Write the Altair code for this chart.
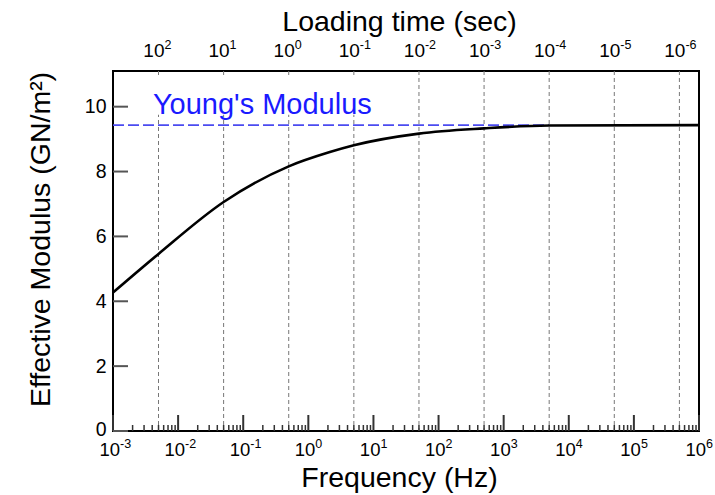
import altair as alt
import pandas as pd

# ---- data ----
freq_exponents = [-3, -2, -1, 0, 1, 2, 3, 4, 5, 6]
minor_multipliers = [2, 3, 4, 5, 6, 7, 8, 9]
loading_time_exponents = [2, 1, 0, -1, -2, -3, -4, -5, -6]
y_ticks = [0, 2, 4, 6, 8, 10]

curve_freq = [1e-3, 5e-3, 5e-2, 5e-1, 2.14, 5, 50, 500, 5000, 1e6]
curve_modulus = [4.27, 5.46, 7.06, 8.16, 8.60, 8.81, 9.17, 9.33, 9.42, 9.43]

youngs_modulus = 9.43
youngs_line_freq = [1e-3, 5e3]
label_text = "Young's Modulus"
label_freq = 0.0041
label_y = 10.05
box_freq = [0.0026, 19.0]
box_y = [9.75, 10.9]

X_DOMAIN = [1e-3, 1e6]
Y_DOMAIN = [0, 11.1]
W, H = 586, 360
FONT = "Liberation Sans"
TITLE_SIZE = 28.5


def xscale():
    return alt.Scale(type="log", domain=X_DOMAIN, nice=False)


yscale = alt.Scale(domain=Y_DOMAIN, nice=False, zero=False)
y_axis = alt.Axis(
    values=y_ticks, title="Effective Modulus (GN/m²)", grid=False, ticks=False, domain=False,
    labelFont=FONT, labelFontSize=19.5, labelColor="black", labelPadding=7,
    labelOffset=alt.ExprRef(expr="datum.value == 0 ? -2 : 0"),
    titleFont=FONT, titleFontSize=TITLE_SIZE, titleFontWeight="normal", titleColor="black",
    titleX=-73, titleY=168, titleAngle=270, titleBaseline="middle", titleAlign="center")

# ---- tables ----
decade_df = pd.DataFrame({"f": [10.0 ** e for e in freq_exponents],
                          "exp": [str(e) for e in freq_exponents]})
minor_df = pd.DataFrame({"f": [m * 10.0 ** e for e in freq_exponents[:-1] for m in minor_multipliers]})
top_df = pd.DataFrame({"f": [0.5 * 10.0 ** (-t) for t in loading_time_exponents],
                       "exp": [str(t) for t in loading_time_exponents]})
curve_df = pd.DataFrame({"f": curve_freq, "E": curve_modulus})
young_df = pd.DataFrame({"f": youngs_line_freq, "E": [youngs_modulus] * 2})
ytick_df = pd.DataFrame({"v": y_ticks})
label_df = pd.DataFrame({"f": [label_freq], "E": [label_y], "t": [label_text]})
box_df = pd.DataFrame({"f": [box_freq[0]], "f2": [box_freq[1]], "E": [box_y[0]], "E2": [box_y[1]]})

# gridlines + top axis title (loading time)
grid = alt.Chart(top_df).mark_rule(color="#777777", strokeWidth=1, strokeDash=[4, 3]).encode(
    x=alt.X("f:Q", scale=xscale(), axis=alt.Axis(
        orient="top", values=top_df["f"].tolist(), labels=False,
        title="Loading time (sec)", grid=False, ticks=False, domain=False,
        titleFont=FONT, titleFontSize=TITLE_SIZE, titleFontWeight="normal", titleColor="black",
        titleX=286, titleY=-50, titleBaseline="middle", titleAlign="center")),
    y=alt.value(0), y2=alt.value(H),
)

top_base = alt.Chart(top_df).mark_text(align="right", baseline="middle", font=FONT, fontSize=19,
                                       color="black", dx=6).encode(
    x=alt.X("f:Q", scale=xscale(), axis=None), y=alt.value(-20), text=alt.value("10"))
top_exp = alt.Chart(top_df).mark_text(align="left", baseline="middle", font=FONT, fontSize=12.5,
                                      color="black", dx=6).encode(
    x=alt.X("f:Q", scale=xscale(), axis=None), y=alt.value(-26), text="exp:N")

box = alt.Chart(box_df).mark_rect(color="white").encode(
    x=alt.X("f:Q", scale=xscale(), axis=None), x2="f2:Q",
    y=alt.Y("E:Q", scale=yscale, axis=y_axis), y2="E2:Q",
)

young = alt.Chart(young_df).mark_line(color="#4b4bf0", strokeWidth=1.6, strokeDash=[11, 4]).encode(
    x=alt.X("f:Q", scale=xscale(), axis=None),
    y=alt.Y("E:Q", scale=yscale, axis=y_axis),
)

curve = alt.Chart(curve_df).mark_line(color="black", strokeWidth=2.6, interpolate="monotone").encode(
    x=alt.X("f:Q", scale=xscale(), axis=None),
    y=alt.Y("E:Q", scale=yscale, axis=y_axis),
)

label = alt.Chart(label_df).mark_text(align="left", baseline="middle", font=FONT, fontSize=29,
                                      color="#1a1aff").encode(
    x=alt.X("f:Q", scale=xscale(), axis=None),
    y=alt.Y("E:Q", scale=yscale, axis=y_axis),
    text="t:N",
)

# bottom axis title (frequency) with inward major ticks
major = alt.Chart(decade_df).mark_rule(color="#333333", strokeWidth=2).encode(
    x=alt.X("f:Q", scale=xscale(), axis=alt.Axis(
        orient="bottom", values=decade_df["f"].tolist(), labels=False,
        title="Frequency (Hz)", grid=False, ticks=False, domain=False,
        titleFont=FONT, titleFontSize=TITLE_SIZE, titleFontWeight="normal", titleColor="black",
        titleX=286, titleY=46, titleBaseline="middle", titleAlign="center")),
    y=alt.value(H), y2=alt.value(H - 16),
)

minor = alt.Chart(minor_df).mark_rule(color="#333333", strokeWidth=1.5).encode(
    x=alt.X("f:Q", scale=xscale(), axis=None),
    y=alt.value(H), y2=alt.value(H - 6),
)

bot_base = alt.Chart(decade_df).mark_text(align="right", baseline="middle", font=FONT, fontSize=18.5,
                                          color="black", dx=7).encode(
    x=alt.X("f:Q", scale=xscale(), axis=None), y=alt.value(H + 19), text=alt.value("10"))
bot_exp = alt.Chart(decade_df).mark_text(align="left", baseline="middle", font=FONT, fontSize=12.5,
                                         color="black", dx=7).encode(
    x=alt.X("f:Q", scale=xscale(), axis=None), y=alt.value(H + 13), text="exp:N")

yticks = alt.Chart(ytick_df).mark_rule(color="#555555", strokeWidth=2).encode(
    y=alt.Y("v:Q", scale=yscale, axis=y_axis),
    x=alt.value(0), x2=alt.value(15),
)

chart = alt.layer(grid, top_base, top_exp, box, young, curve, label, major, minor,
                  bot_base, bot_exp, yticks).resolve_scale(
    x="independent"
).properties(
    width=W, height=H,
    padding={"left": 113, "top": 71, "right": 16, "bottom": 64},
    autosize=alt.AutoSizeParams(type="none"),
).configure_view(stroke="black", strokeWidth=2)

chart.save("out.html", embed_options={"renderer": "svg", "actions": False})
